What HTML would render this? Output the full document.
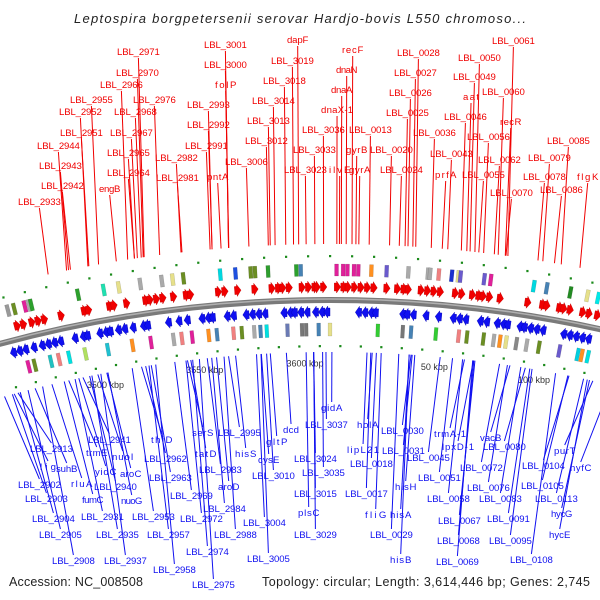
<!DOCTYPE html>
<html><head><meta charset="utf-8"><style>
html,body{margin:0;padding:0;background:#fff;width:600px;height:600px;overflow:hidden;}
svg{display:block;overflow:hidden;font-family:"Liberation Sans","DejaVu Sans",sans-serif;}
</style></head><body>
<svg id="map" width="600" height="600" viewBox="0 0 600 600">
<defs><clipPath id="frame"><rect x="0" y="0" width="600" height="600"/></clipPath></defs>
<g clip-path="url(#frame)">
<text x="300" y="23" text-anchor="middle" font-size="13" font-style="italic" fill="#222" textLength="452">Leptospira borgpetersenii serovar Hardjo-bovis L550 chromoso...</text>
<path id="bb" d="" fill="none" stroke="#7a7a7a" stroke-width="6"/>
<path id="bb2" d="" fill="none" stroke="#b0b0b0" stroke-width="1.5"/>
<g id="feat"></g>
<g id="lbl"></g>
<text x="9" y="586" font-size="12.5" fill="#222" textLength="134">Accession: NC_008508</text>
<text x="262" y="586" font-size="12.5" fill="#222" textLength="328">Topology: circular; Length: 3,614,446 bp; Genes: 2,745</text>
</g>
</svg>
<script>
const genomeLen = 3614.446;
const fwdGenes = [3466,3469,3473,3476,3479,3487,3498,3500,3510,3512,3518,3527,3529,3532,3535,3540,3546,3548,3561,3564,3570,3578,3586,3589,3591,3594,3600,3603,3606,3607,3610,2,5,7,10,13,16,19,25,30,33,35,41,44,47,50,57,60,65,68,70,73,78,91,98,100,106,108,111,117,120,124];
const revGenes = [3464,3467,3470,3474,3478,3481,3484,3487,3494,3498,3500,3506,3509,3511,3515,3518,3522,3527,3529,3539,3544,3548,3555,3558,3560,3567,3570,3576,3579,3582,3585,3594,3597,3599,3602,3605,3609,3612,0,15,18,21,23,36,38,41,47,53,60,63,66,73,76,81,84,86,92,94,97,100,103,113,116,119,122,125];
const fwdCog = [3465,3468,3473,3475,3476,3498,3510,3517,3527,3537,3542,3547,3564,3571,3578,3580,3586,3599,3601,3,6,8,11,13,19,26,36,45,46,50,56,59,60,71,74,94,100,111,119,124];
const fwdCogColor = ['#999','#6b8e23','#e0209a','#aaa','#2ca02c','#2ca02c','#20e0b0','#e6e08a','#aaa','#aaa','#e6e08a','#6b8e23','#00d8e0','#1e50e0','#6b8e23','#6b8e23','#2e9e2e','#2ca02c','#4682b4','#e0209a','#e0209a','#e0209a','#e0209a','#e0209a','#ff9020','#6a5acd','#aaa','#aaa','#aaa','#f08080','#1a30d0','#e6e08a','#6a5acd','#6a5acd','#e0209a','#00d8e0','#4682b4','#228b22','#e6e08a','#00e8e8'];
const revCog = [3468,3471,3479,3483,3488,3496,3507,3519,3528,3539,3543,3548,3556,3560,3568,3572,3578,3581,3584,3594,3601,3603,3609,0,23,35,39,51,62,66,74,79,82,85,90,95,101,111,120,122,125];
const revCogColor = ['#e0209a','#6b8e23','#20c0c0','#f08080','#00e0e0','#b0e060','#20c0d0','#ff9020','#e0209a','#aaa','#f08080','#e0209a','#ff9020','#4682b4','#f08080','#6b8e23','#aaa','#4682b4','#00e0e0','#6a7ab4','#777','#777','#4682b4','#e6e08a','#33cc33','#777','#4682b4','#33cc33','#f08080','#6b8e23','#6b8e23','#aaa','#ff9020','#e6e08a','#888','#aaa','#6b8e23','#6a5acd','#00d0e0','#ff9020','#00e0e0'];
const tickKbp = [3500,3550,3600,50,100];
const tickText = ['3500 kbp','3550 kbp','3600 kbp','50 kbp','100 kbp'];
const redLabels = [["LBL_2971",117,55],["LBL_3001",204,48],["dapF",287,43],["recF",342,53],["LBL_0028",397,56],["LBL_0061",492,44],["LBL_2970",116,76],["LBL_3000",204,68],["LBL_3019",271,64],["dnaN",336,73],["LBL_0027",394,76],["LBL_0050",458,61],["LBL_2966",100,88],["folP",215,88],["LBL_3018",263,84],["dnaA",331,93],["LBL_0026",389,96],["LBL_0049",453,80],["LBL_2955",70,103],["LBL_2976",133,103],["LBL_2993",187,108],["LBL_3014",252,104],["dnaX-1",321,113],["aat",463,100],["LBL_0060",482,95],["LBL_2952",59,115],["LBL_2968",114,115],["LBL_3013",247,124],["LBL_0025",386,116],["LBL_0046",444,120],["recR",500,125],["LBL_2951",60,136],["LBL_2967",110,136],["LBL_2992",187,128],["LBL_3036",302,133],["LBL_0013",349,133],["LBL_0036",413,136],["LBL_2944",37,149],["LBL_2991",185,149],["LBL_3012",245,144],["LBL_0056",467,140],["LBL_0085",547,144],["LBL_2965",107,156],["LBL_2982",155,161],["LBL_3006",225,165],["LBL_3033",293,153],["gyrB",346,153],["LBL_0020",370,153],["LBL_0043",430,157],["LBL_0079",528,161],["LBL_0062",478,163],["LBL_2943",39,169],["LBL_2964",107,176],["LBL_2981",156,181],["pntA",207,180],["LBL_3023",284,173],["ilvE",329,173],["gyrA",349,173],["LBL_0024",380,173],["prfA",435,178],["LBL_0055",462,178],["LBL_0078",523,180],["flgK",577,180],["LBL_2942",41,189],["engB",99,192],["LBL_0086",540,193],["LBL_0070",490,196],["LBL_2933",18,205]];
const blueLabels = [["gidA",321,411],["LBL_3037",305,428],["holA",357,428],["LBL_0030",381,434],["trmA-1",434,437],["LBL_2941",88,443],["thiD",151,443],["serS",192,436],["LBL_2995",218,436],["dcd",283,433],["gltP",266,445],["lipL21",347,453],["LBL_0031",382,454],["lpxD-1",442,450],["vacB",480,441],["LBL_2913",30,452],["trmE",86,456],["nuoI",112,460],["hisS",235,457],["tatD",195,457],["LBL_2962",144,462],["cysE",258,463],["LBL_3024",294,462],["LBL_0018",350,467],["LBL_0045",407,461],["LBL_0080",483,450],["purT",554,454],["lig",40,470],["suhB",56,472],["yidC",95,475],["aroC",120,477],["LBL_2983",199,473],["LBL_0072",460,471],["LBL_0104",522,469],["hyfC",570,471],["LBL_2963",149,481],["LBL_3010",252,479],["LBL_3035",302,476],["LBL_0051",418,481],["LBL_2902",18,488],["rluA",71,487],["LBL_2940",94,490],["aroD",218,490],["LBL_2969",170,499],["LBL_3015",294,497],["LBL_0017",345,497],["LBL_0076",467,491],["LBL_0105",521,489],["hisH",395,490],["LBL_2903",25,502],["fumC",82,503],["nuoG",121,504],["LBL_0058",427,502],["LBL_0083",479,502],["LBL_0113",535,502],["LBL_2984",203,512],["plsC",298,516],["fliG",365,518],["hisA",390,518],["hycG",551,517],["LBL_2904",32,522],["LBL_2931",81,520],["LBL_2953",132,520],["LBL_2972",180,522],["LBL_3004",243,526],["LBL_0067",438,524],["LBL_0091",487,522],["LBL_2905",39,538],["LBL_2935",96,538],["LBL_2957",147,538],["LBL_2988",214,538],["LBL_3029",294,538],["LBL_0029",370,538],["hycE",549,538],["LBL_0095",489,544],["LBL_2974",186,555],["LBL_0068",437,544],["LBL_2908",52,564],["LBL_2937",104,564],["LBL_3005",247,562],["hisB",390,563],["LBL_0108",510,563],["LBL_0069",436,565],["LBL_2958",153,573],["LBL_2975",192,588]];

const NS='http://www.w3.org/2000/svg';
const CX=330, CY=1566, R=1266, RAD_PER_KBP=0.00168;
function ang(kbp){ const off = kbp > genomeLen/2 ? kbp - genomeLen : kbp; return off*RAD_PER_KBP; }
function pt(r,t){ return [CX + r*Math.sin(t), CY - r*Math.cos(t)]; }
function P(a){ return a[0].toFixed(1)+','+a[1].toFixed(1); }
(function(){
  const t1=Math.asin(-360/R), t2=Math.asin(300/R);
  const a=pt(R,t1), b=pt(R,t2);
  document.getElementById('bb').setAttribute('d','M'+P(a)+' A'+R+','+R+' 0 0 1 '+P(b));
  const a2=pt(R+1,t1), b2=pt(R+1,t2);
  document.getElementById('bb2').setAttribute('d','M'+P(a2)+' A'+(R+1)+','+(R+1)+' 0 0 1 '+P(b2));
})();
const feat=document.getElementById('feat'), lbl=document.getElementById('lbl');
function mk(tag, attrs, parent){ const e=document.createElementNS(NS,tag); for(const k in attrs) e.setAttribute(k,attrs[k]); parent.appendChild(e); return e; }

for(let k=-160;k<=130;k+=10){
  const a=pt(R+44, ang((k+genomeLen)%genomeLen));
  const d=mk('rect',{x:a[0]-1,y:a[1]-1,width:2.2,height:2.2,fill:'#1a8a1a'},feat);
  
  
  const b=pt(R-46, ang((k+5+genomeLen)%genomeLen));
  const d2=mk('rect',{x:b[0]-1,y:b[1]-1,width:2.2,height:2.2,fill:'#1a8a1a'},feat);
  
  
}
function cog(pos,color,r1,r2,name){
  const t1=ang(pos)-0.9*RAD_PER_KBP, t2=ang(pos)+0.9*RAD_PER_KBP;
  const e=mk('polygon',{points:[P(pt(r1,t1)),P(pt(r2,t1)),P(pt(r2,t2)),P(pt(r1,t2))].join(' '),fill:color,stroke:'rgba(0,0,0,0.25)','stroke-width':0.4},feat);
  
  
}
fwdCog.forEach((p,i)=>cog(p,fwdCogColor[i],R+24,R+36,'cog-box-fwd'));
revCog.forEach((p,i)=>cog(p,revCogColor[i],R-23,R-36,'cog-box-rev'));
const GL=3;
fwdGenes.forEach(s=>{
  const t0=ang(s), tb=ang(s)+GL*0.35*RAD_PER_KBP, te=ang(s)+GL*RAD_PER_KBP;
  const pts=[pt(R+9,t0),pt(R+9,tb),pt(R+7,tb),pt(R+13,te),pt(R+19,tb),pt(R+17,tb),pt(R+17,t0)];
  const e=mk('polygon',{points:pts.map(P).join(' '),fill:'#f00000',stroke:'#c00000','stroke-width':0.4},feat);
  
  
});
revGenes.forEach(s=>{
  const t0=ang(s), tb=ang(s)-GL*0.35*RAD_PER_KBP, te=ang(s)-GL*RAD_PER_KBP;
  const pts=[pt(R-8,t0),pt(R-8,tb),pt(R-6,tb),pt(R-12,te),pt(R-18,tb),pt(R-16,tb),pt(R-16,t0)];
  const e=mk('polygon',{points:pts.map(P).join(' '),fill:'#1010f0',stroke:'#0000b0','stroke-width':0.4},feat);
  
  
});
tickKbp.forEach((k,i)=>{
  const a=pt(1196, ang(k));
  const e=mk('text',{x:a[0]+4,y:a[1]-4,'font-size':9,fill:'#333','text-anchor':'middle'},feat);
  e.textContent=tickText[i];
  
  
});
function label(arr,color,isRed){
  arr.forEach(l=>{
    const w=l[0].length*5.35;
    const c=l[1]+w/2;
    const r = isRed? R+56 : R-52;
    const xa = CX + (c-CX)*(isRed?0.97:1.12);
    const t = Math.asin(Math.max(-1,Math.min(1,(xa-CX)/r)));
    const e = pt(r,t);
    const ln=mk('line',{x1:c,y1:isRed?l[2]+3:l[2]-9,x2:e[0],y2:e[1],stroke:color,'stroke-width':1},lbl);
    
    
    const tx=mk('text',{x:l[1],y:l[2],'font-size':9.6,fill:color,textLength:w.toFixed(1)},lbl);
    tx.textContent=l[0];
    
    
  });
}
label(redLabels,'#f00000',true);
label(blueLabels,'#1010f0',false);
</script>
</body></html>
